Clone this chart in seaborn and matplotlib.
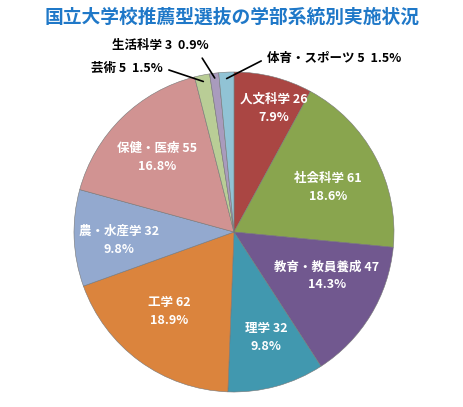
import numpy as np
import matplotlib.pyplot as plt
import seaborn as sns

# ====================== DATA ======================
fields = ["人文科学", "社会科学", "教育・教員養成", "理学", "工学",
          "農・水産学", "保健・医療", "芸術", "生活科学", "体育・スポーツ"]
counts = [26, 61, 47, 32, 62, 32, 55, 5, 3, 5]
pcts = [7.9, 18.6, 14.3, 9.8, 18.9, 9.8, 16.8, 1.5, 0.9, 1.5]
colors = ["#AA4643", "#89A54E", "#71588F", "#4198AF", "#DB843D",
          "#93A9CF", "#D19392", "#B9CD96", "#A99BBD", "#91C3D5"]
title = "国立大学校推薦型選抜の学部系統別実施状況"

# ====================== LAYOUT ======================
W, H = 463, 407
cx, cy, R = 234, 175, 160  # pie centre / radius in pixels (from bottom)
inner_r = [0.81, 0.65, 0.64, 0.69, 0.64, 0.72, 0.67]
inner_shift = [-3.6, -2.4, 6.0, 1.4, -2.9, 1.8, 1.3]  # degrees
# outside labels: (x, y, ha, relpos, tip radius)
outer = {
    7: (-0.444, 1.025, "right", (1.0, 0.5), 0.96),
    8: (-0.4625, 1.1625, "center", (0.9, 0.0), 0.97),
    9: (0.206, 1.0875, "left", (0.0, 0.5), 0.96),
}

sns.set_theme(style="white")
plt.rcParams["font.family"] = ["Noto Sans CJK JP", "DejaVu Sans"]

fig = plt.figure(figsize=(W / 100, H / 100), dpi=100)
ax = fig.add_axes([(cx - R) / W, (cy - R) / H, 2 * R / W, 2 * R / H])

wedges, _ = ax.pie(counts, colors=colors, startangle=90, counterclock=False,
                   radius=1, wedgeprops=dict(edgecolor="#777777", linewidth=0.4))
ax.set_xlim(-1, 1)
ax.set_ylim(-1, 1)

for i, w in enumerate(wedges):
    mid = np.deg2rad((w.theta1 + w.theta2) / 2)
    if i < len(inner_r):
        a = mid + np.deg2rad(inner_shift[i])
        ax.text(inner_r[i] * np.cos(a), inner_r[i] * np.sin(a),
                f"{fields[i]} {counts[i]}\n{pcts[i]}%",
                ha="center", va="center", color="white", fontsize=9,
                fontweight="bold", linespacing=1.5)
    else:
        tx, ty, ha, rel, tr = outer[i]
        ax.annotate(f"{fields[i]} {counts[i]}  {pcts[i]}%",
                    xy=(tr * np.cos(mid), tr * np.sin(mid)), xytext=(tx, ty),
                    ha=ha, va="center", fontsize=9, fontweight="bold",
                    color="black", annotation_clip=False,
                    arrowprops=dict(arrowstyle="-", color="black", lw=1.2,
                                    relpos=rel, shrinkA=2, shrinkB=0))

fig.text(0.501, 1 - 17 / H, title, ha="center", va="center",
         color="#1F78C8", fontsize=13.5, fontweight="bold")

fig.savefig("out.png", dpi=100)
